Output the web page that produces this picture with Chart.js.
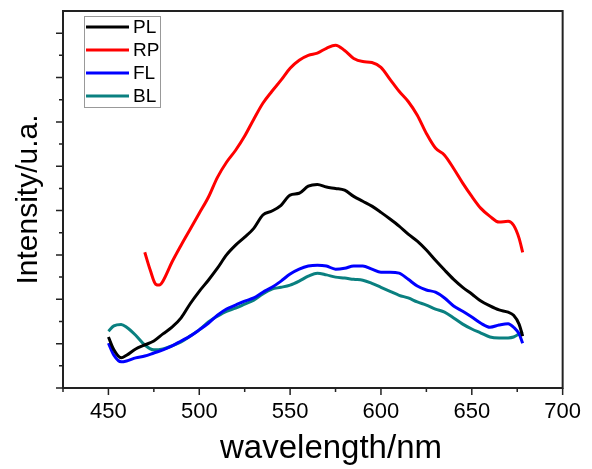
<!DOCTYPE html>
<html lang="en">
<head>
<meta charset="UTF-8">
<title>PL spectra</title>
<script src="https://cdn.jsdelivr.net/npm/chart.js@4.4.0/dist/chart.umd.min.js"></script>
<style>
  html, body { margin: 0; padding: 0; background: #fff; }
  #wrap { width: 592px; height: 469px; }
</style>
</head>
<body>
<div id="wrap"><canvas id="spec"></canvas></div>
<script>
// wavelength (nm) for PL / FL / BL
const wl = [450,453,457,460,465,470,475,480,485,490,495,500,505,510,515,520,525,530,535,540,545,550,555,560,565,570,575,580,585,590,595,600,605,610,615,620,625,630,635,640,645,650,655,660,665,670,673,676,678];
const PL = [1.15,0.86,0.68,0.74,0.88,0.97,1.06,1.22,1.37,1.58,1.90,2.18,2.43,2.70,3.00,3.22,3.40,3.60,3.90,3.99,4.12,4.35,4.39,4.55,4.59,4.53,4.50,4.46,4.32,4.21,4.10,3.96,3.81,3.65,3.47,3.31,3.11,2.88,2.66,2.45,2.27,2.12,1.96,1.85,1.76,1.71,1.64,1.44,1.17];
const FL = [1.01,0.74,0.59,0.61,0.68,0.72,0.79,0.86,0.95,1.06,1.17,1.31,1.46,1.64,1.78,1.87,1.96,2.03,2.16,2.27,2.41,2.57,2.68,2.75,2.77,2.75,2.68,2.70,2.75,2.75,2.68,2.61,2.61,2.59,2.45,2.30,2.21,2.16,2.03,1.85,1.73,1.60,1.46,1.37,1.42,1.45,1.37,1.22,1.01];
const BL = [1.28,1.40,1.43,1.37,1.19,0.97,0.86,0.88,0.95,1.04,1.17,1.31,1.49,1.62,1.73,1.80,1.89,1.98,2.12,2.23,2.27,2.32,2.41,2.52,2.59,2.55,2.50,2.48,2.45,2.43,2.36,2.27,2.18,2.09,2.03,1.94,1.87,1.78,1.71,1.58,1.44,1.33,1.24,1.15,1.13,1.13,1.15,1.22,1.28];
// RP starts later
const wlRP = [470,473,476,478,480,485,490,495,500,505,510,515,520,525,530,535,540,545,550,555,560,565,570,575,580,585,590,595,600,605,610,615,620,625,630,635,640,645,650,655,660,665,670,673,676,678];
const RP = [3.06,2.66,2.34,2.32,2.41,2.84,3.22,3.58,3.94,4.30,4.75,5.09,5.36,5.68,6.06,6.42,6.69,6.94,7.21,7.39,7.50,7.55,7.66,7.73,7.61,7.43,7.36,7.34,7.23,6.96,6.69,6.46,6.15,5.74,5.41,5.25,4.95,4.62,4.32,4.05,3.87,3.74,3.76,3.67,3.38,3.06];

const xTicks = [450,500,550,600,650,700];
const xMinor = [425,475,525,575,625,675];
const yMajor = [0,1,2,3,4,5,6,7,8];
const yMinor = [0.5,1.5,2.5,3.5,4.5,5.5,6.5,7.5];

const FONT = "'Liberation Sans', Arial, sans-serif";
const AXIS = '#222';

function pts(xs, ys) { return xs.map((x, i) => ({x: x, y: ys[i]})); }

const framePlugin = {
  id: 'frame',
  afterDraw(chart) {
    const ctx = chart.ctx;
    const a = chart.chartArea;
    const sx = chart.scales.x, sy = chart.scales.y;
    ctx.save();
    ctx.strokeStyle = AXIS;
    ctx.lineWidth = 2;
    ctx.strokeRect(a.left, a.top, a.right - a.left, a.bottom - a.top);
    ctx.lineWidth = 1.5;
    ctx.beginPath();
    xTicks.forEach(v => { const p = sx.getPixelForValue(v); ctx.moveTo(p, a.bottom); ctx.lineTo(p, a.bottom + 7); });
    xMinor.forEach(v => { const p = sx.getPixelForValue(v); ctx.moveTo(p, a.bottom); ctx.lineTo(p, a.bottom + 4); });
    yMajor.forEach(v => { const p = sy.getPixelForValue(v); ctx.moveTo(a.left, p); ctx.lineTo(a.left - 7, p); });
    yMinor.forEach(v => { const p = sy.getPixelForValue(v); ctx.moveTo(a.left, p); ctx.lineTo(a.left - 4, p); });
    ctx.stroke();

    // x title, sits a bit right of centre in the original
    ctx.fillStyle = '#000';
    ctx.font = '33px ' + FONT;
    ctx.textAlign = 'center';
    ctx.textBaseline = 'alphabetic';
    ctx.fillText('wavelength/nm', a.left + 268, chart.height - 11);

    // legend box
    const bx = a.left + 21, by = a.top + 5, bw = 76, bh = 91;
    ctx.fillStyle = '#fff';
    ctx.fillRect(bx, by, bw, bh);
    ctx.strokeStyle = '#999';
    ctx.lineWidth = 1;
    ctx.strokeRect(bx + 0.5, by + 0.5, bw, bh);
    ctx.font = '19px ' + FONT;
    ctx.textAlign = 'left';
    ctx.textBaseline = 'middle';
    chart.data.datasets.forEach((ds, i) => {
      const ry = by + 11 + i * 23;
      ctx.strokeStyle = ds.borderColor;
      ctx.lineWidth = 3;
      ctx.beginPath();
      ctx.moveTo(bx + 2, ry);
      ctx.lineTo(bx + 45, ry);
      ctx.stroke();
      ctx.fillStyle = '#000';
      ctx.fillText(ds.label, bx + 49, ry + 1);
    });
    ctx.restore();
  }
};

new Chart(document.getElementById('spec'), {
  type: 'line',
  data: {
    datasets: [
      { label: 'PL', data: pts(wl, PL), borderColor: '#000000' },
      { label: 'RP', data: pts(wlRP, RP), borderColor: '#ff0000' },
      { label: 'FL', data: pts(wl, FL), borderColor: '#0000ff' },
      { label: 'BL', data: pts(wl, BL), borderColor: '#0a8080' }
    ]
  },
  options: {
    responsive: true,
    maintainAspectRatio: false,
    animation: false,
    layout: { padding: { left: 0, right: 27, top: 11, bottom: 0 } },
    elements: {
      point: { radius: 0 },
      line: { borderWidth: 3, cubicInterpolationMode: 'monotone', fill: false }
    },
    plugins: { legend: { display: false }, tooltip: { enabled: false } },
    scales: {
      x: {
        type: 'linear',
        min: 425,
        max: 700,
        afterBuildTicks: s => { s.ticks = xTicks.map(v => ({ value: v })); },
        afterFit: s => { s.height = 81; },
        grid: { display: false, drawTicks: false },
        border: { display: false },
        ticks: { color: '#000', padding: 11, font: { family: FONT, size: 22 } },
        title: { display: false }
      },
      y: {
        min: 0,
        max: 8.5,
        afterFit: s => { s.width = 63; },
        grid: { display: false, drawTicks: false },
        border: { display: false },
        ticks: { display: false },
        title: { display: true, text: 'Intensity/u.a.', color: '#000', padding: { top: 11, bottom: 0 }, font: { family: FONT, size: 30 } }
      }
    }
  },
  plugins: [framePlugin]
});
</script>
</body>
</html>
